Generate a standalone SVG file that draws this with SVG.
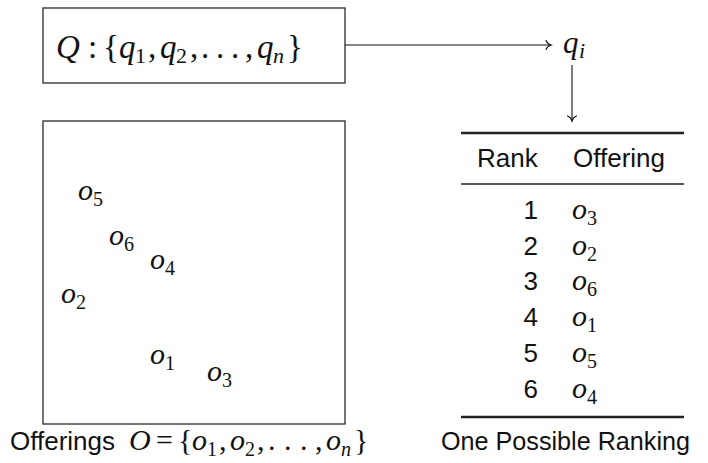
<svg xmlns="http://www.w3.org/2000/svg" width="708" height="463" viewBox="0 0 708 463">
  <style>
    .box { fill: none; stroke: #2a2a2a; stroke-width: 1.3; }
    .edge { fill: none; stroke: #111; stroke-width: 1.1; }
    .rule { stroke: #222; }
    .sans { font-family: "Liberation Sans", Arial, sans-serif; font-size: 26px; fill: #111; }
    .math { font-family: "Liberation Serif", "Times New Roman", serif; fill: #111; }
    .it { font-style: italic; }
    .big { font-size: 33px; }
    .mid { font-size: 30px; }
    .sub { font-size: 20px; }
    .subbig { font-size: 22px; }
  </style>
  <defs>
    <marker id="tip" markerUnits="userSpaceOnUse" markerWidth="12" markerHeight="12" viewBox="-6 -6 12 12" refX="0" refY="0" orient="auto">
      <path d="M-5,-4.5 C-4,-2 -1.5,-0.4 0,0 C-1.5,0.4 -4,2 -5,4.5" fill="none" stroke="#111" stroke-width="1.1" stroke-linecap="round"/>
    </marker>
  </defs>

  <rect width="708" height="463" fill="#fff"/>

  <!-- query set -->
  <g id="query-set">
    <rect class="box" x="43" y="8" width="302" height="75"/>
    <g class="math big">
      <text class="it" x="56" y="58">Q</text>
      <text x="88" y="58">:</text>
      <text x="103" y="58">{</text>
      <text class="it" x="119" y="58">q</text>
      <text class="subbig" x="135" y="63">1</text>
      <text x="148" y="58">,</text>
      <text class="it" x="160" y="58">q</text>
      <text class="subbig" x="176" y="63">2</text>
      <text x="190" y="58">,</text>
      <text x="201" y="58">.</text>
      <text x="216" y="58">.</text>
      <text x="231" y="58">.</text>
      <text x="245" y="58">,</text>
      <text class="it" x="257" y="58">q</text>
      <text class="subbig it" x="273" y="63">n</text>
      <text x="287" y="58">}</text>
    </g>
  </g>

  <!-- selected query -->
  <g id="query-item">
    <text class="math it" font-size="31" x="563" y="53">q</text>
    <text class="math it subbig" x="579" y="58">i</text>
  </g>

  <!-- offerings space -->
  <g id="offerings">
    <rect class="box" x="43" y="121" width="302" height="303"/>
    <g class="math">
      <text class="it mid" x="78" y="200">o</text><text class="sub" x="93" y="206">5</text>
      <text class="it mid" x="109" y="245">o</text><text class="sub" x="124" y="251">6</text>
      <text class="it mid" x="150" y="269">o</text><text class="sub" x="165" y="275">4</text>
      <text class="it mid" x="61" y="303">o</text><text class="sub" x="76" y="309">2</text>
      <text class="it mid" x="150" y="364">o</text><text class="sub" x="165" y="370">1</text>
      <text class="it mid" x="207" y="381">o</text><text class="sub" x="222" y="387">3</text>
    </g>
    <text class="sans" x="10" y="450">Offerings</text>
    <g class="math mid">
      <text class="it" x="129" y="450">O</text>
      <text x="156" y="450">=</text>
      <text x="178" y="450">{</text>
      <text class="it" x="192" y="450">o</text><text class="sub" x="207" y="456">1</text>
      <text x="219" y="450">,</text>
      <text class="it" x="230" y="450">o</text><text class="sub" x="245" y="456">2</text>
      <text x="257" y="450">,</text>
      <text x="268" y="450">.</text>
      <text x="284" y="450">.</text>
      <text x="300" y="450">.</text>
      <text x="315" y="450">,</text>
      <text class="it" x="326" y="450">o</text><text class="sub it" x="341" y="456">n</text>
      <text x="354" y="450">}</text>
    </g>
  </g>

  <!-- ranking table -->
  <g id="ranking">
    <line class="rule" x1="461" y1="133" x2="684" y2="133" stroke-width="2.6"/>
    <text class="sans" x="477" y="167">Rank</text>
    <text class="sans" x="573" y="167">Offering</text>
    <line class="rule" x1="461" y1="184" x2="684" y2="184" stroke-width="1.6"/>
    <g class="sans" text-anchor="end">
      <text x="538" y="219">1</text>
      <text x="538" y="255">2</text>
      <text x="538" y="290">3</text>
      <text x="538" y="326">4</text>
      <text x="538" y="362">5</text>
      <text x="538" y="398">6</text>
    </g>
    <g class="math">
      <text class="it mid" x="572" y="219">o</text><text class="sub" x="587" y="225">3</text>
      <text class="it mid" x="572" y="255">o</text><text class="sub" x="587" y="261">2</text>
      <text class="it mid" x="572" y="290">o</text><text class="sub" x="587" y="296">6</text>
      <text class="it mid" x="572" y="326">o</text><text class="sub" x="587" y="332">1</text>
      <text class="it mid" x="572" y="362">o</text><text class="sub" x="587" y="368">5</text>
      <text class="it mid" x="572" y="398">o</text><text class="sub" x="587" y="404">4</text>
    </g>
    <line class="rule" x1="461" y1="417" x2="684" y2="417" stroke-width="2.6"/>
    <text class="sans" x="441" y="450" textLength="249" lengthAdjust="spacingAndGlyphs">One Possible Ranking</text>
  </g>

  <!-- connectors -->
  <g id="connectors">
    <line class="edge" x1="345" y1="45" x2="551" y2="45" marker-end="url(#tip)"/>
    <line class="edge" x1="572" y1="65" x2="572" y2="121" marker-end="url(#tip)"/>
  </g>
</svg>
